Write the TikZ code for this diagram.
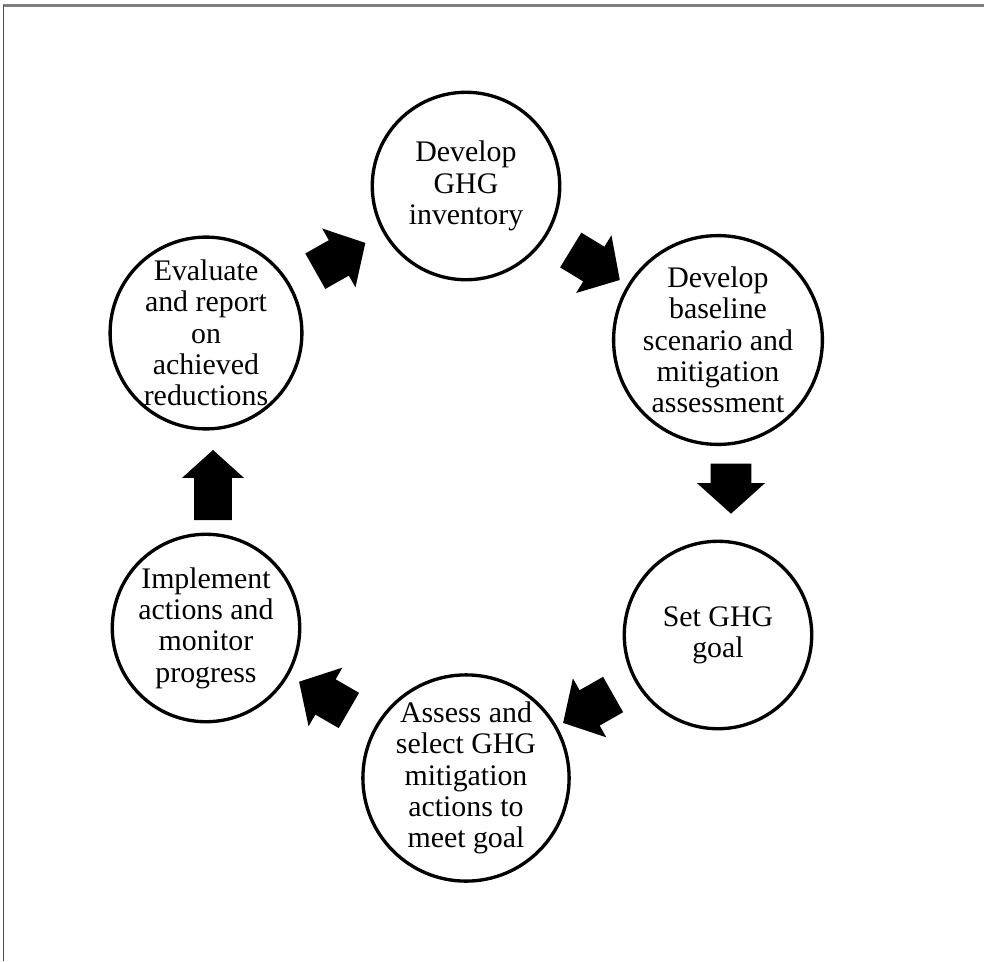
\documentclass[tikz,border=0pt]{standalone}
\usepackage{fontspec}
\setmainfont{Liberation Serif}
\usetikzlibrary{shapes.arrows}
\tikzset{
	step circle/.style={circle,draw,line width=1.9pt,minimum size=3.75cm,inner sep=0pt,align=center,font=\fontsize{17}{17.8}\selectfont},
	fat arrow/.style={single arrow,fill=black,draw=none,minimum height=1.15cm,inner xsep=0pt,inner ysep=0.4cm,single arrow head extend=0.27cm,single arrow tip angle=96,sloped,allow upside down}
}
\begin{document}
\begin{tikzpicture}[x=0.02cm,y=-0.02cm]
			\useasboundingbox (0,0) rectangle (984,961);
			%Khung ngoai
			\draw[gray,line width=1.2pt] (3,5.5)--(984,5.5);
			\draw[gray!60!black,line width=0.6pt] (3.5,5)--(3.5,961);
			%Vong tron
			\node[step circle] (ghg) at (466,186) {Develop\\GHG\\inventory};
			\node[step circle] (base) at (718,340) {Develop\\baseline\\scenario and\\mitigation\\assessment};
			\node[step circle] (goal) at (718,635) {Set GHG\\goal};
			\node[step circle] (assess) at (466,778) {Assess and\\select GHG\\mitigation\\actions to\\meet goal};
			\node[step circle] (impl) at (206,628) {Implement\\actions and\\monitor\\progress};
			\node[step circle] (eval) at (206,333) {Evaluate\\and report\\on\\achieved\\reductions};
			%Mui ten
			\path (eval)--node[fat arrow,pos=0.45]{} (ghg);
			\path (ghg)--node[fat arrow]{} (base);
			\path ([xshift=0.26cm]base.center)--node[fat arrow,pos=0.473,minimum height=1.0cm]{} ([xshift=0.26cm]goal.center);
			\path (goal)--node[fat arrow]{} (assess);
			\path (assess)--node[fat arrow]{} (impl);
			\path ([xshift=0.14cm]impl.center)--node[fat arrow,pos=0.456,minimum height=1.4cm,inner ysep=0.37cm,single arrow head extend=0.24cm]{} ([xshift=0.14cm]eval.center);
		\end{tikzpicture}
\end{document}
